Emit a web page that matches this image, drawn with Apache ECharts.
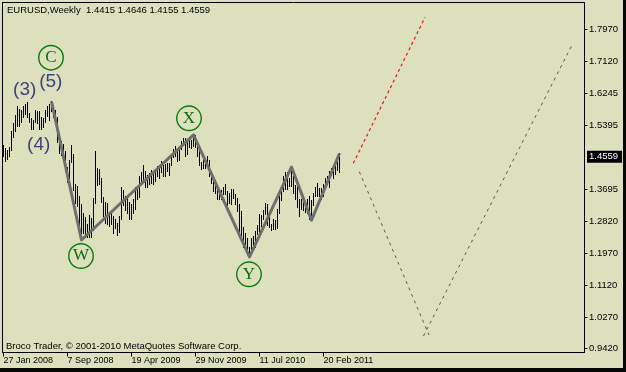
<!DOCTYPE html>
<html>
<head>
<meta charset="utf-8">
<script src="https://cdn.jsdelivr.net/npm/echarts@6/dist/echarts.min.js"></script>
<style>
html,body{margin:0;padding:0;background:#dce0bc;}
#chart{width:626px;height:372px;}
</style>
</head>
<body>
<div id="chart"></div>
<script>
// ---- data (weekly EURUSD bars, index 0 = week of 27 Jan 2008) ----
const symbolName = 'EURUSD,Weekly';
const lastBar = [1.4415, 1.4646, 1.4155, 1.4559]; // O H L C
const currentPrice = 1.4559;

const weekLows = [
1.4590,1.4440,1.4500,1.4580,1.4730,1.5090,1.5250,1.5370,1.5370,1.5490,
1.5610,1.5700,1.5620,1.5500,1.5290,1.5290,1.5500,1.5450,1.5300,1.5290,
1.5360,1.5490,1.5660,1.5530,1.5780,1.5630,1.5500,1.4950,1.4660,1.4610,
1.4600,1.4190,1.3880,1.3930,1.4410,1.3660,1.3330,1.3250,1.2520,1.2330,
1.2510,1.2420,1.2420,1.2420,1.2420,1.2600,1.3310,1.3800,1.3840,1.3340,
1.2970,1.2790,1.2750,1.2710,1.2750,1.2510,1.2640,1.2460,1.2540,1.2900,
1.3280,1.3120,1.3060,1.2890,1.2890,1.3040,1.3160,1.3420,1.3470,1.3840,
1.3900,1.3760,1.3740,1.3840,1.3850,1.3830,1.3920,1.4050,1.3990,1.4150,
1.4050,1.4040,1.4180,1.4070,1.4330,1.4540,1.4580,1.4450,1.4480,1.4760,
1.4860,1.4580,1.4630,1.4810,1.4780,1.4840,1.4830,1.4580,1.4330,1.4220,
1.4260,1.4260,1.4340,1.4030,1.3860,1.3640,1.3580,1.3440,1.3440,1.3430,
1.3560,1.3550,1.3270,1.3310,1.3300,1.3450,1.3300,1.3110,1.2520,1.2350,
1.2140,1.2110,1.1960,1.1876,1.1960,1.2150,1.2150,1.2480,1.2540,1.2700,
1.2880,1.3030,1.2730,1.2680,1.2590,1.2620,1.2630,1.2660,1.3040,1.3400,
1.3650,1.3690,1.3700,1.3770,1.3780,1.3580,1.3440,1.3200,1.2970,1.3150,
1.3120,1.3070,1.3060,1.2900,1.2861,1.3270,1.3500,1.3520,1.3500,1.3430,
1.3500,1.3740,1.3830,1.3750,1.4060,1.4000,1.4100,1.4200,1.4155
];
const weekHighs = [
1.4870,1.4800,1.4740,1.4830,1.5240,1.5460,1.5680,1.5904,1.5840,1.5820,
1.5910,1.5980,1.6019,1.5720,1.5590,1.5550,1.5820,1.5780,1.5790,1.5620,
1.5600,1.5800,1.5920,1.5960,1.6038,1.5900,1.5800,1.5620,1.5000,1.4990,
1.4900,1.4720,1.4280,1.4480,1.4870,1.4620,1.3840,1.3780,1.3520,1.3300,
1.3060,1.2950,1.2770,1.3000,1.2920,1.3450,1.4720,1.4250,1.4220,1.4000,
1.3490,1.3350,1.3330,1.3000,1.3110,1.2970,1.2880,1.2780,1.2980,1.3740,
1.3680,1.3510,1.3480,1.3350,1.3300,1.3440,1.3740,1.3740,1.4050,1.4140,
1.4340,1.4170,1.4070,1.4120,1.4200,1.4090,1.4230,1.4310,1.4310,1.4450,
1.4330,1.4360,1.4380,1.4380,1.4620,1.4770,1.4840,1.4700,1.4820,1.4970,
1.5060,1.5060,1.4970,1.5010,1.5010,1.5145,1.5140,1.4900,1.4730,1.4420,
1.4580,1.4480,1.4580,1.4470,1.4190,1.4050,1.3840,1.3720,1.3700,1.3680,
1.3740,1.3840,1.3650,1.3590,1.3690,1.3690,1.3560,1.3460,1.3300,1.3100,
1.2670,1.2520,1.2390,1.2130,1.2390,1.2450,1.2580,1.2720,1.3020,1.2990,
1.3120,1.3330,1.3290,1.2960,1.2770,1.2890,1.2870,1.3160,1.3520,1.3750,
1.4030,1.4160,1.4160,1.4000,1.4282,1.4040,1.3790,1.3790,1.3430,1.3440,
1.3500,1.3260,1.3430,1.3500,1.3400,1.3590,1.3760,1.3860,1.3710,1.3720,
1.3830,1.4000,1.4040,1.4180,1.4250,1.4250,1.4350,1.4530,1.4646
];

// x-axis tick labels (week index -> label)
const xTickIdx = [0, 32, 64, 96, 128, 160];
const xTickLabels = ['27 Jan 2008', '7 Sep 2008', '19 Apr 2009', '29 Nov 2009', '11 Jul 2010', '20 Feb 2011'];
// y-axis tick labels
const yTicks = [1.7970, 1.7120, 1.6245, 1.5395, 1.3695, 1.2820, 1.1970, 1.1120, 1.0270, 0.9420];

// Elliott wave path (week index, price)
const waveIdx = [24, 39, 95, 123, 144, 154, 168];
const wavePrice = [1.6038, 1.2330, 1.5145, 1.1876, 1.4282, 1.2861, 1.4646];

// projected paths (week index, price)
const projRedIdx = [174.9, 210.75];
const projRedPrice = [1.4383, 1.8291];
const projDownIdx = [177.9, 212.75];
const projDownPrice = [1.4158, 0.9787];
const projUpIdx = [210.0, 284.25];
const projUpPrice = [0.9760, 1.7550];

// wave labels
const circleText = ['C', 'W', 'X', 'Y'];
const circleIdx = [23.75, 38.75, 92.75, 122.75];
const circlePrice = [1.7210, 1.1902, 1.5588, 1.1412];
const degreeText = ['(3)', '(5)', '(4)'];
const degreeIdx = [10.6, 23.65, 17.6];
const degreePrice = [1.6353, 1.6567, 1.4873];

const copyrightText = 'Broco Trader, \u00a9 2001-2010 MetaQuotes Software Corp.';

// ---- chart ----
const BG = '#dce0bc';
const FONT = '"Liberation Sans", Arial, sans-serif';
const X_MIN = -0.5, X_MAX = 290.5;
const Y_MIN = 0.93182, Y_MAX = 1.86874;

const barData = weekLows.map((lo, i) => [i, lo, weekHighs[i]]);
const pairs = (xs, ys) => xs.map((x, i) => [x, ys[i]]);

const chart = echarts.init(document.getElementById('chart'), null, {renderer: 'canvas'});
const option = {
  backgroundColor: BG,
  animation: false,
  grid: {left: 2.5, top: 2.5, right: 41.5, bottom: 19.5},
  xAxis: [
    {
      type: 'value', min: X_MIN, max: X_MAX, position: 'bottom',
      axisLine: {show: true, onZero: false, lineStyle: {color: '#000', width: 1}},
      splitLine: {show: false},
      axisTick: {show: true, customValues: xTickIdx, length: 4, lineStyle: {color: '#000', width: 1}},
      axisLabel: {
        customValues: xTickIdx,
        formatter: v => xTickLabels[xTickIdx.indexOf(v)] || '',
        align: 'left', margin: 4, color: '#000', fontSize: 9, fontFamily: FONT
      }
    },
    {
      type: 'value', min: X_MIN, max: X_MAX, position: 'top',
      axisLine: {show: true, onZero: false, lineStyle: {color: '#000', width: 1}},
      splitLine: {show: false}, axisTick: {show: false}, axisLabel: {show: false}
    }
  ],
  yAxis: [
    {
      type: 'value', min: Y_MIN, max: Y_MAX, position: 'right',
      axisLine: {show: true, onZero: false, lineStyle: {color: '#000', width: 1}},
      splitLine: {show: false},
      axisTick: {show: true, customValues: yTicks, length: 3, lineStyle: {color: '#000', width: 1}},
      axisLabel: {
        customValues: yTicks.concat([currentPrice]),
        formatter: v => Math.abs(v - currentPrice) < 1e-9 ? '{box|' + v.toFixed(4) + '}' : '{n|' + v.toFixed(4) + '}',
        margin: 2.5,
        rich: {
          n: {color: '#000', fontSize: 9.5, fontFamily: FONT, padding: [0, 0, 0, 2]},
          box: {color: '#fff', backgroundColor: '#000', fontSize: 9.5, fontFamily: FONT, padding: [1, 4, 1, 2]}
        }
      }
    },
    {
      type: 'value', min: Y_MIN, max: Y_MAX, position: 'left',
      axisLine: {show: true, onZero: false, lineStyle: {color: '#000', width: 1}},
      splitLine: {show: false}, axisTick: {show: false}, axisLabel: {show: false}
    }
  ],
  series: [
    {
      type: 'custom', name: 'bars', xAxisIndex: 0, yAxisIndex: 0, z: 2, silent: true, clip: true,
      encode: {x: 0, y: [1, 2]},
      data: barData,
      renderItem: function (params, api) {
        const i = api.value(0), lo = api.value(1), hi = api.value(2);
        const a = api.coord([i, hi]);
        const b = api.coord([i, lo]);
        const px = Math.floor(a[0]);
        const top = Math.round(a[1]);
        const bottom = Math.round(b[1]) + 1;
        return {
          type: 'rect',
          shape: {x: px, y: top, width: 1, height: bottom - top},
          style: {fill: '#000'}
        };
      }
    },
    {
      type: 'line', name: 'wave', z: 3, silent: true, showSymbol: false, symbol: 'none',
      data: pairs(waveIdx, wavePrice),
      lineStyle: {color: '#6e6e6e', width: 3, join: 'round'}
    },
    {
      type: 'line', name: 'projRed', z: 3, silent: true, showSymbol: false, symbol: 'none',
      data: pairs(projRedIdx, projRedPrice),
      lineStyle: {color: '#ee0f2a', width: 1.2, type: [3, 3]}
    },
    {
      type: 'line', name: 'projDown', z: 3, silent: true, showSymbol: false, symbol: 'none',
      data: pairs(projDownIdx, projDownPrice),
      lineStyle: {color: '#5a5a5a', width: 1, type: [3, 4]}
    },
    {
      type: 'line', name: 'projUp', z: 3, silent: true, showSymbol: false, symbol: 'none',
      data: pairs(projUpIdx, projUpPrice),
      lineStyle: {color: '#5a5a5a', width: 1, type: [3, 4]}
    },
    {
      type: 'scatter', name: 'circles', z: 4, silent: true,
      data: circleIdx.map((x, i) => [x, circlePrice[i], circleText[i]]),
      symbol: 'circle', symbolSize: 24.5,
      itemStyle: {color: 'rgba(0,0,0,0)', borderColor: '#0c7a0c', borderWidth: 1.4, opacity: 1},
      label: {
        show: true, position: 'inside', formatter: p => p.data[2],
        color: '#0e6a0e', fontSize: 17, fontFamily: '"Liberation Serif", "Times New Roman", serif'
      }
    },
    {
      type: 'scatter', name: 'degrees', z: 4, silent: true,
      data: degreeIdx.map((x, i) => [x, degreePrice[i], degreeText[i]]),
      symbol: 'circle', symbolSize: 1,
      itemStyle: {color: 'rgba(0,0,0,0)'},
      label: {
        show: true, position: 'inside', formatter: p => p.data[2],
        color: '#17176a', fontSize: 19, fontFamily: FONT
      }
    }
  ],
  graphic: [
    {type: 'text', left: 7, top: 5, silent: true,
     style: {text: symbolName + '  ' + lastBar.map(v => v.toFixed(4)).join(' '), fill: '#000', font: '9.5px ' + FONT}},
    {type: 'text', left: 6, top: 341, silent: true,
     style: {text: copyrightText, fill: '#000', font: '9.5px ' + FONT}},
    {type: 'rect', silent: true, shape: {x: 623, y: 0, width: 3, height: 372}, style: {fill: '#050505'}},
    {type: 'rect', silent: true, shape: {x: 0, y: 368, width: 626, height: 4}, style: {fill: '#050505'}}
  ]
};
chart.setOption(option);
</script>
</body>
</html>
